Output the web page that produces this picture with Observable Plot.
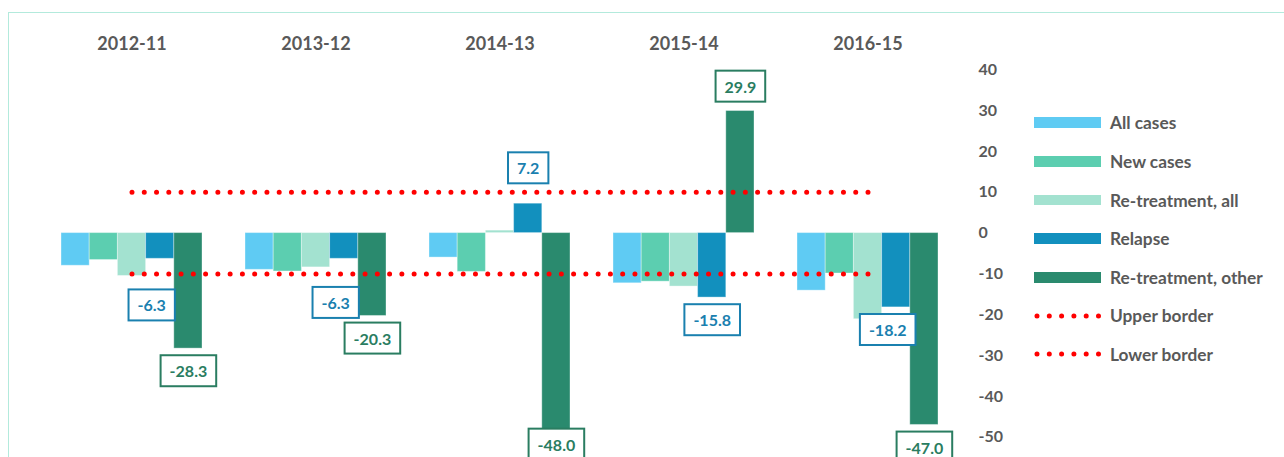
<!DOCTYPE html>
<html><head><meta charset="utf-8">
<script src="https://cdn.jsdelivr.net/npm/d3@7"></script>
<script src="https://cdn.jsdelivr.net/npm/@observablehq/plot@0.6"></script>
<style>
html,body{margin:0;padding:0;background:#fff;}
#wrap{position:relative;width:1284px;height:457px;overflow:hidden;font-family:Lato,"DejaVu Sans",sans-serif;}
#frame{position:absolute;left:8px;top:12px;width:1400px;height:600px;border-left:1.5px solid #B3EADC;border-top:1.5px solid #B3EADC;box-sizing:border-box;}
#chart{position:absolute;left:0;top:0;}
#legend{position:absolute;left:0;top:0;width:1284px;height:457px;pointer-events:none;}
.lrow{position:absolute;left:1034px;height:20px;display:flex;align-items:center;}
.lsw{width:67px;height:10.7px;margin-right:9px;}
.ldots{width:67px;height:10px;margin-right:9px;}
.ltx{font-weight:bold;font-size:17.3px;color:#595959;white-space:nowrap;}
</style></head>
<body>
<div id="wrap"><div id="frame"></div><div id="chart"></div><div id="legend"></div></div>
<script>
// ---- data ----
const years = ["2012-11", "2013-12", "2014-13", "2015-14", "2016-15"];
const seriesNames = ["All cases", "New cases", "Re-treatment, all", "Relapse", "Re-treatment, other"];
const seriesColors = ["#5FCBF3", "#5CCEB0", "#A3E2D0", "#1290BE", "#2A8A6E"];
const allCases = [-8.0, -9.0, -6.0, -12.3, -14.1];
const newCases = [-6.6, -9.4, -9.5, -11.9, -9.9];
const retreatAll = [-10.5, -8.4, 0.6, -13.1, -21.1];
const relapse = [-6.3, -6.3, 7.2, -15.8, -18.2];
const retreatOther = [-28.3, -20.3, -48.0, 29.9, -47.0];
const borderNames = ["Upper border", "Lower border"];
const borderValues = [10, -10];
const yTicks = [40, 30, 20, 10, 0, -10, -20, -30, -40, -50];
const labelColors = {relapse: "#1A80AF", other: "#2A7D61"};

const seriesValues = [allCases, newCases, retreatAll, relapse, retreatOther];
const rows = seriesNames.flatMap((s, i) => years.map((y, j) => ({year: y, series: s, si: i, yi: j, value: seriesValues[i][j]})));
const borderRows = borderValues.flatMap((v, k) => [{year: years[0], v, k}, {year: years[years.length - 1], v, k}]);

const W = 1284, H = 457;
const base = {
  width: W, height: H,
  marginTop: 69.3, marginBottom: 20.3, marginLeft: 16, marginRight: 301,
  x: {domain: years, padding: 0.231, axis: null},
  y: {domain: [-50, 40], axis: null},
  style: {fontFamily: "Lato, 'DejaVu Sans', sans-serif", fontWeight: "bold", color: "#595959", background: "transparent", overflow: "hidden"}
};

// probe to read the band geometry
const probe = Plot.plot({...base, marks: [Plot.barY(rows, {x: "year", y: "value"})]});
const px = probe.scale("x");
const bw = px.bandwidth;
const slot = bw / 5;
const span = px.apply(years[years.length - 1]) - px.apply(years[0]);
const dotGap = span / 60;

function lbl(data, color, offset, dx, dy) {
  return Plot.text(data, {
    x: "year", y: "value", text: d => d.value.toFixed(1),
    fill: color, fontSize: 16, fontWeight: "bold", lineAnchor: "middle",
    dx: offset + dx, dy
  });
}
const rel = rows.filter(d => d.si === 3);
const oth = rows.filter(d => d.si === 4);

const marks = [];
seriesNames.forEach((s, i) => {
  marks.push(Plot.barY(rows.filter(d => d.si === i), {
    x: "year", y: "value", fill: seriesColors[i],
    insetLeft: i * slot, insetRight: (4 - i) * slot,
    stroke: "#ffffff", strokeOpacity: 0.35, strokeWidth: 1
  }));
});
marks.push(Plot.line(borderRows, {x: "year", y: "v", z: "k", stroke: "#FF0000", strokeWidth: 5, strokeDasharray: `0,${dotGap}`, strokeLinecap: "round"}));
// relapse labels
marks.push(lbl(rel.filter(d => d.yi === 0), labelColors.relapse, slot, -8.5, 47.5));
marks.push(lbl(rel.filter(d => d.yi === 1), labelColors.relapse, slot, -8.5, 45));
marks.push(lbl(rel.filter(d => d.yi === 2), labelColors.relapse, slot, 0, -34.5));
marks.push(lbl(rel.filter(d => d.yi === 3), labelColors.relapse, slot, 0, 23.5));
marks.push(lbl(rel.filter(d => d.yi === 4), labelColors.relapse, slot, -8.5, 23.5));
// other labels
marks.push(lbl(oth.filter(d => d.value < 0 && d.yi !== 2), labelColors.other, 2 * slot, 0, 23.5));
marks.push(lbl(oth.filter(d => d.yi === 2), labelColors.other, 2 * slot, 0, 16.5));
marks.push(lbl(oth.filter(d => d.value >= 0), labelColors.other, 2 * slot, 0, -23.5));
// axes
marks.push(Plot.axisX({anchor: "top", tickSize: 0, tickPadding: 20, fontSize: 18, fontWeight: "bold", label: null}));
marks.push(Plot.axisY({ticks: yTicks, anchor: "right", tickSize: 0, tickPadding: 0, dx: -5, fontSize: 16, fontWeight: "bold", tickFormat: d => String(d), label: null}));

const chart = Plot.plot({...base, marks});
document.getElementById("chart").appendChild(chart);

// boxes around value labels
chart.querySelectorAll('g[aria-label="text"]').forEach(g => {
  const col = g.getAttribute("fill");
  g.querySelectorAll("text").forEach(t => {
    const b = t.getBBox();
    const r = document.createElementNS("http://www.w3.org/2000/svg", "rect");
    const cy = b.y + b.height / 2;
    r.setAttribute("x", b.x - 9);
    r.setAttribute("y", cy - 15.5);
    r.setAttribute("width", b.width + 18);
    r.setAttribute("height", 31);
    r.setAttribute("fill", "#ffffff");
    r.setAttribute("stroke", col);
    r.setAttribute("stroke-width", 2);
    if (t.getAttribute("transform")) r.setAttribute("transform", t.getAttribute("transform"));
    g.insertBefore(r, t);
  });
});

// legend
const legend = document.getElementById("legend");
const rowTop0 = 112.8, rowStep = 38.6;
seriesNames.forEach((s, i) => {
  const row = document.createElement("div");
  row.className = "lrow"; row.style.top = (rowTop0 + i * rowStep) + "px";
  row.innerHTML = `<div class="lsw" style="background:${seriesColors[i]}"></div><div class="ltx">${s}</div>`;
  legend.appendChild(row);
});
borderNames.forEach((s, k) => {
  const i = seriesNames.length + k;
  const row = document.createElement("div");
  row.className = "lrow"; row.style.top = (rowTop0 + i * rowStep) + "px";
  row.innerHTML = `<svg class="ldots" width="67" height="10"><line x1="3" x2="67" y1="5" y2="5" stroke="#FF0000" stroke-width="5" stroke-linecap="round" stroke-dasharray="0,12.3"/></svg><div class="ltx">${s}</div>`;
  legend.appendChild(row);
});
</script>
</body></html>
